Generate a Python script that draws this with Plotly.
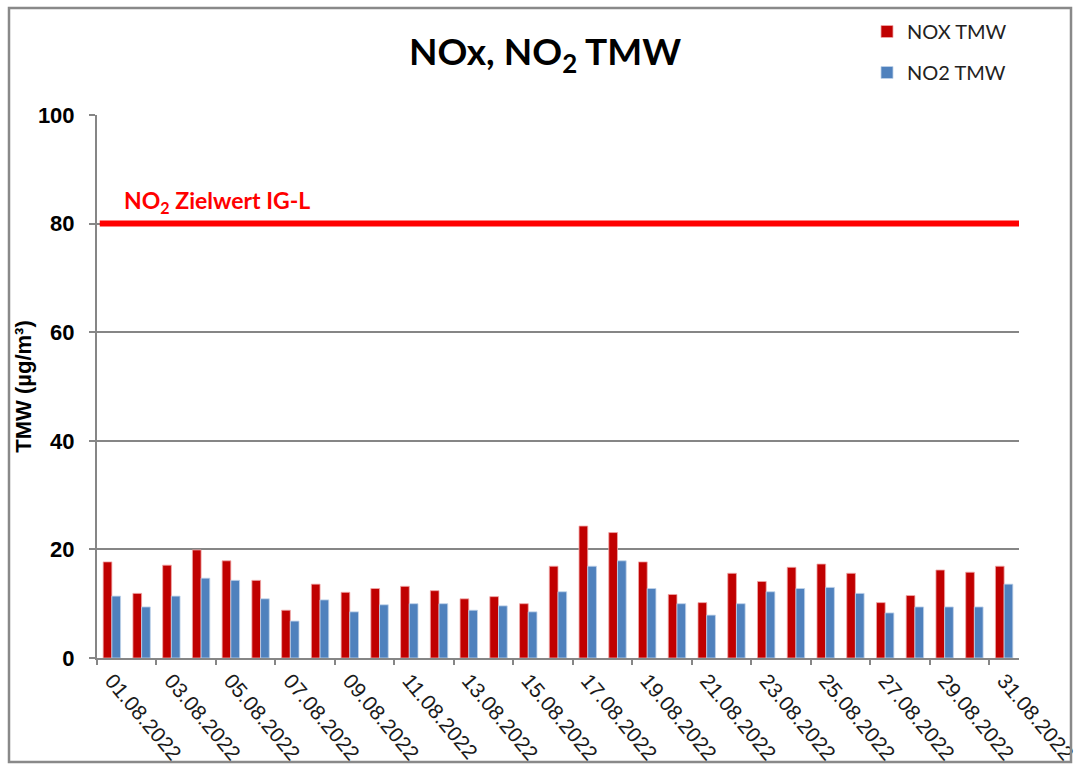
import plotly.graph_objects as go

dates = ["01.08.2022", "02.08.2022", "03.08.2022", "04.08.2022", "05.08.2022",
         "06.08.2022", "07.08.2022", "08.08.2022", "09.08.2022", "10.08.2022",
         "11.08.2022", "12.08.2022", "13.08.2022", "14.08.2022", "15.08.2022",
         "16.08.2022", "17.08.2022", "18.08.2022", "19.08.2022", "20.08.2022",
         "21.08.2022", "22.08.2022", "23.08.2022", "24.08.2022", "25.08.2022",
         "26.08.2022", "27.08.2022", "28.08.2022", "29.08.2022", "30.08.2022",
         "31.08.2022"]
nox_tmw = [17.7, 11.9, 17.1, 19.9, 17.9, 14.3, 8.8, 13.6, 12.1, 12.8,
           13.2, 12.4, 10.9, 11.3, 10.0, 16.9, 24.3, 23.1, 17.7, 11.7,
           10.2, 15.6, 14.1, 16.7, 17.3, 15.6, 10.2, 11.5, 16.2, 15.8, 16.9]
no2_tmw = [11.4, 9.4, 11.4, 14.7, 14.3, 10.9, 6.8, 10.7, 8.5, 9.8,
           10.0, 10.0, 8.8, 9.6, 8.5, 12.2, 16.9, 17.9, 12.8, 10.0,
           7.9, 10.0, 12.2, 12.8, 13.0, 11.9, 8.3, 9.4, 9.4, 9.4, 13.6]
zielwert = 80
y_ticks = [0, 20, 40, 60, 80, 100]

GRAY = "#868686"
W, H = 1078, 772
# plot area in page pixels: x 97..1019, y 115..658
L, T = 97, 115
R = W - 1019
B = H - 658
pw, ph = W - L - R, H - T - B

def px_x(p):
    return (p - L) / pw

def px_y(p):
    return (H - B - p) / ph

fig = go.Figure()
fig.add_trace(go.Bar(x=dates, y=nox_tmw, name="NOX TMW", legendgroup="a",
                     marker=dict(color="#C00000", line=dict(color="#f0a8a8", width=0.8))))
fig.add_trace(go.Bar(x=dates, y=no2_tmw, name="NO2 TMW", legendgroup="b",
                     marker=dict(color="#4F81BD", line=dict(color="#c0d3ea", width=0.8))))

n = len(dates)
boundaries = [i - 0.5 for i in range(0, n, 2)]
fig.add_trace(go.Scatter(x=[-0.5, n - 0.5], y=[None, None], xaxis="x2",
                         showlegend=False, hoverinfo="skip", mode="lines"))

fig.add_shape(type="line", xref="paper", yref="y", x0=0.003, x1=1, y0=zielwert, y1=zielwert,
              line=dict(color="#FF0000", width=6))
fig.add_shape(type="rect", xref="paper", yref="paper",
              x0=px_x(9), x1=px_x(1071), y0=px_y(762), y1=px_y(8),
              line=dict(color="#898989", width=2.5))

fig.add_annotation(text="NO<sub>2</sub> Zielwert IG-L", xref="paper", yref="y",
                   x=px_x(122), y=zielwert, xanchor="left", yanchor="bottom", yshift=5,
                   showarrow=False,
                   font=dict(family="Lato", size=23, color="#FF0000", weight="bold"))

fig.update_layout(
    width=W, height=H,
    margin=dict(l=L, r=R, t=T, b=B, autoexpand=False),
    paper_bgcolor="white", plot_bgcolor="white",
    barmode="group", bargap=0.415, bargroupgap=0,
    title=dict(text="NOx, NO<sub>2</sub> TMW", x=545 / W, xanchor="center",
               xref="container", y=1 - 52 / H, yanchor="middle", yref="container",
               font=dict(family="Lato", size=37, color="black", weight="bold")),
    legend=dict(x=px_x(867), y=px_y(12), xanchor="left", yanchor="top",
                traceorder="grouped", tracegroupgap=12,
                font=dict(family="Lato", size=20, color="#222222"),
                bgcolor="rgba(0,0,0,0)", itemwidth=30),
    xaxis=dict(type="category", range=[-0.5, n - 0.5], tickmode="array",
               tickvals=dates[::2], ticktext=dates[::2], ticks="",
               tickangle=50, showline=True, linecolor=GRAY, linewidth=2,
               showgrid=False, zeroline=False, automargin=False,
               tickfont=dict(family="Liberation Sans, Arial", size=21, color="#1a1a1a")),
    xaxis2=dict(overlaying="x", anchor="y", side="bottom", type="linear",
                range=[-0.5, n - 0.5], tickmode="array", tickvals=boundaries,
                ticks="outside", ticklen=6, tickwidth=2, tickcolor=GRAY, automargin=False,
                showticklabels=False, showgrid=False, zeroline=False, showline=False),
    yaxis=dict(range=[0, 100], tickmode="array", tickvals=y_ticks,
               ticks="outside", ticklen=6, tickwidth=2, tickcolor=GRAY,
               showgrid=True, gridcolor=GRAY, gridwidth=2, automargin=False,
               showline=True, linecolor=GRAY, linewidth=2, zeroline=False,
               ticklabelstandoff=10,
               tickfont=dict(family="Liberation Sans, Arial", size=22, color="black", weight="bold"),
               title=dict(text="TMW (µg/m³)", standoff=0,
                          font=dict(family="Liberation Sans, Arial", size=22, color="black", weight="bold"))),
)

fig.write_html(
    "out.html",
    config={"displayModeBar": False},
    post_script="document.body.style.margin='0';document.documentElement.style.overflow='hidden';document.body.style.overflow='hidden';",
)
